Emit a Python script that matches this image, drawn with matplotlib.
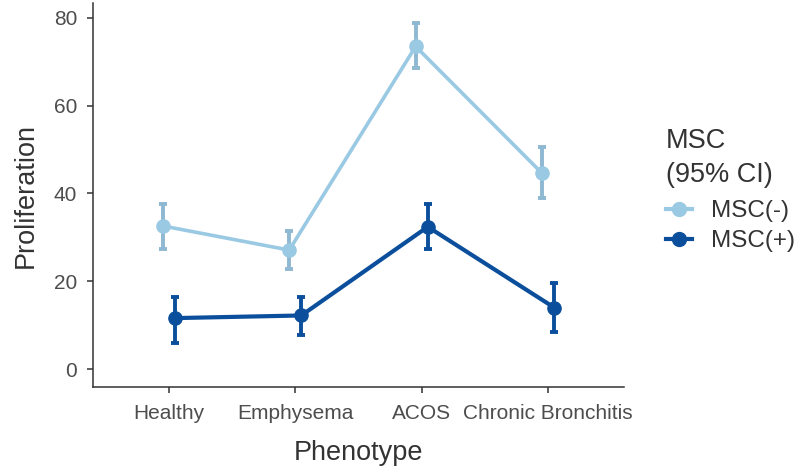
import matplotlib
matplotlib.use("Agg")
import matplotlib.pyplot as plt
from matplotlib.lines import Line2D
import numpy as np

plt.rcParams['font.family'] = ['Liberation Sans', 'DejaVu Sans']

phenotypes = ["Healthy", "Emphysema", "ACOS", "Chronic Bronchitis"]
groups = ["MSC(-)", "MSC(+)"]

msc_neg_mean = [32.6, 27.1, 73.5, 44.6]
msc_neg_lo = [27.4, 22.8, 68.5, 39.0]
msc_neg_hi = [37.6, 31.5, 78.8, 50.5]

msc_pos_mean = [11.6, 12.2, 32.4, 14.0]
msc_pos_lo = [6.0, 7.7, 27.3, 8.4]
msc_pos_hi = [16.5, 16.5, 37.6, 19.5]

colors = ["#9ac9e3", "#0b4f9c"]
err_colors = ["#8fb8d2", "#0b4f9c"]

fig = plt.figure(figsize=(8.03, 4.71), dpi=100)
ax = fig.add_axes([93 / 803, 1 - 387 / 471, (624 - 93) / 803, (387 - 3) / 471])

x = np.arange(1, len(phenotypes) + 1)
dodge = 0.048
series = [
    (msc_neg_mean, msc_neg_lo, msc_neg_hi, -dodge, 2.6),
    (msc_pos_mean, msc_pos_lo, msc_pos_hi, dodge, 3.0),
]
for i, (m, lo, hi, off, lw) in enumerate(series):
    xs = x + off
    m = np.array(m); lo = np.array(lo); hi = np.array(hi)
    ax.plot(xs, m, color=colors[i], lw=lw, zorder=2, solid_capstyle='round')
    ax.errorbar(xs, m, yerr=[m - lo, hi - m], fmt='none', ecolor=err_colors[i],
                elinewidth=2.8, capsize=3, capthick=2.8, zorder=3)
    ax.plot(xs, m, 'o', color=colors[i], ms=9.5, mec=colors[i], zorder=4)

ax.set_xlim(0.4, 4.6)
ax.set_ylim(-4.1, 83.4)
ax.set_xticks(x)
ax.set_xticklabels(phenotypes)
ax.set_yticks([0, 20, 40, 60, 80])

for side in ['top', 'right']:
    ax.spines[side].set_visible(False)
for side in ['left', 'bottom']:
    ax.spines[side].set_color('#333333')
    ax.spines[side].set_linewidth(1.1)
ax.tick_params(axis='both', colors='#333333', labelcolor='#4d4d4d',
               length=4.5, width=1.1, labelsize=15)
ax.tick_params(axis='y', pad=7)
ax.tick_params(axis='x', pad=8)

ax.set_xlabel("Phenotype", fontsize=19.5, color='#333333', labelpad=12)
ax.set_ylabel("Proliferation", fontsize=19.5, color='#333333', labelpad=11)

handles = [Line2D([0], [0], color=colors[i], lw=3, marker='o', ms=10)
           for i in range(2)]
leg = fig.legend(handles, groups, title="MSC\n(95% CI)",
                 loc='upper left', bbox_to_anchor=(656 / 803, 1 - 118 / 471),
                 frameon=False, fontsize=17.5, title_fontsize=19.5,
                 handlelength=1.1, handletextpad=0.75, labelspacing=0.32,
                 borderaxespad=0)
leg._legend_box.align = "left"
leg._legend_box.sep = 9
leg.get_title().set_linespacing(1.4)
for t in leg.get_texts():
    t.set_color('#333333')
leg.get_title().set_color('#333333')

fig.savefig("out.png", dpi=100)
